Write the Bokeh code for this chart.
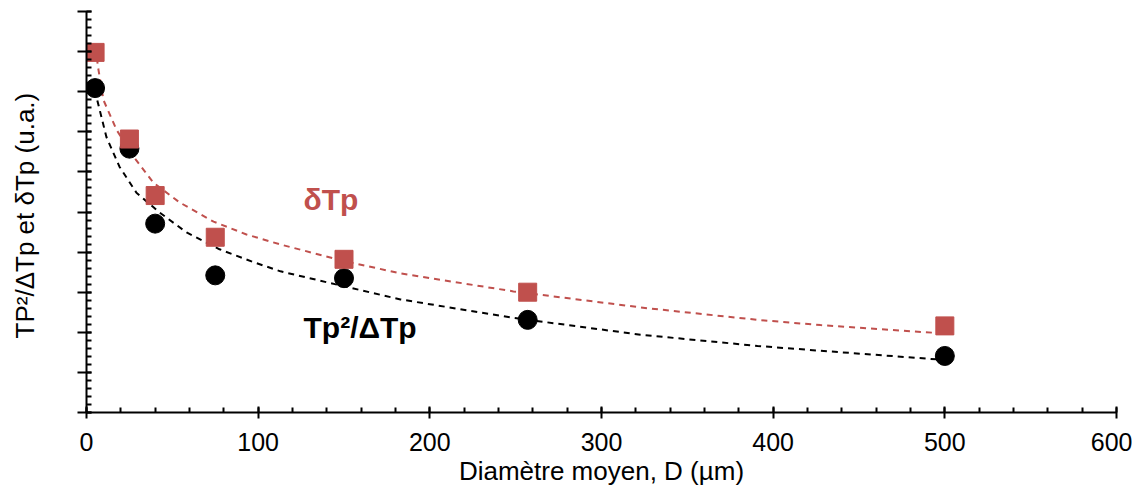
from bokeh.plotting import figure
from bokeh.models import Range1d, SingleIntervalTicker, CustomJSTickFormatter, Label
from bokeh.embed import file_html
from bokeh.resources import INLINE

# Data
diam = [5, 25, 40, 75, 150, 257, 500]
tp2_dtp = [8.09, 6.58, 4.71, 3.42, 3.35, 2.31, 1.41]
delta_tp = [8.98, 6.82, 5.41, 4.37, 3.82, 3.00, 2.16]

# Trend curves
fit_x_black = [5, 5.8, 11.6, 19.2, 29.1, 42.5, 58.3, 77.5, 97.3, 113, 149.7, 182.9, 248.7, 322.7, 390.9, 427.6, 500]
fit_y_black = [8.05, 7.87, 6.87, 6.13, 5.48, 4.99, 4.49, 4.07, 3.75, 3.52, 3.15, 2.82, 2.36, 1.94, 1.66, 1.54, 1.31]
fit_x_red = [6, 7.0, 9.9, 17.5, 27.4, 39.0, 54.2, 74.0, 93.2, 113, 149.7, 182.9, 248.7, 326.8, 390.9, 427.6, 500]
fit_y_red = [8.85, 8.54, 7.79, 7.05, 6.38, 5.73, 5.24, 4.76, 4.44, 4.19, 3.78, 3.47, 3.02, 2.60, 2.31, 2.18, 1.97]

RED = "#C0504D"
FONT = "Liberation Sans"

p = figure(width=1132, height=488, output_backend="svg", toolbar_location=None,
           x_range=Range1d(0, 600), y_range=Range1d(0, 10),
           min_border_left=86, min_border_right=16, min_border_top=11, min_border_bottom=74)
p.outline_line_color = None
p.xgrid.visible = False
p.ygrid.visible = False
p.background_fill_color = "white"
p.border_fill_color = "white"

p.line(fit_x_black, fit_y_black, line_color="black", line_dash="6 5", line_width=2)
p.line(fit_x_red, fit_y_red, line_color=RED, line_dash="6 5", line_width=2)
p.scatter(diam, tp2_dtp, marker="circle", size=19, fill_color="black", line_color="black")
p.scatter(diam, delta_tp, marker="square", size=18, fill_color=RED, line_color=RED)

xa = p.xaxis[0]
xa.ticker = SingleIntervalTicker(interval=100, num_minor_ticks=5)
xa.axis_label = "Diamètre moyen, D (µm)"
xa.axis_label_text_font = FONT
xa.axis_label_text_font_style = "normal"
xa.axis_label_text_font_size = "26px"
xa.axis_label_text_color = "black"
xa.axis_label_standoff = 2
xa.major_label_text_font = FONT
xa.major_label_text_font_size = "25px"
xa.major_label_text_color = "black"
xa.major_label_standoff = 14
xa.major_tick_in = 6
xa.major_tick_out = 6
xa.minor_tick_in = 5
xa.minor_tick_out = 0
xa.axis_line_width = 2
xa.axis_line_color = "black"
xa.major_tick_line_width = 2
xa.minor_tick_line_width = 2

ya = p.yaxis[0]
ya.ticker = SingleIntervalTicker(interval=1, num_minor_ticks=5)
ya.formatter = CustomJSTickFormatter(code="return ''")
ya.axis_label = "TP²/ΔTp et δTp  (u.a.)"
ya.axis_label_text_font = FONT
ya.axis_label_text_font_style = "normal"
ya.axis_label_text_font_size = "26px"
ya.axis_label_text_color = "black"
ya.axis_label_standoff = 38
ya.major_tick_in = 5
ya.major_tick_out = 9
ya.minor_tick_in = 5
ya.minor_tick_out = 0
ya.axis_line_width = 2
ya.axis_line_color = "black"
ya.major_tick_line_width = 2
ya.minor_tick_line_width = 2

p.add_layout(Label(x=126.4, y=5.31, text="δTp", text_color=RED, text_font=FONT,
                   text_font_style="bold", text_font_size="30px", text_baseline="alphabetic"))
p.add_layout(Label(x=126.4, y=2.13, text="Tp²/ΔTp", text_color="black", text_font=FONT,
                   text_font_style="bold", text_font_size="30px", text_baseline="alphabetic"))

open("out.html", "w").write(file_html(p, INLINE))
